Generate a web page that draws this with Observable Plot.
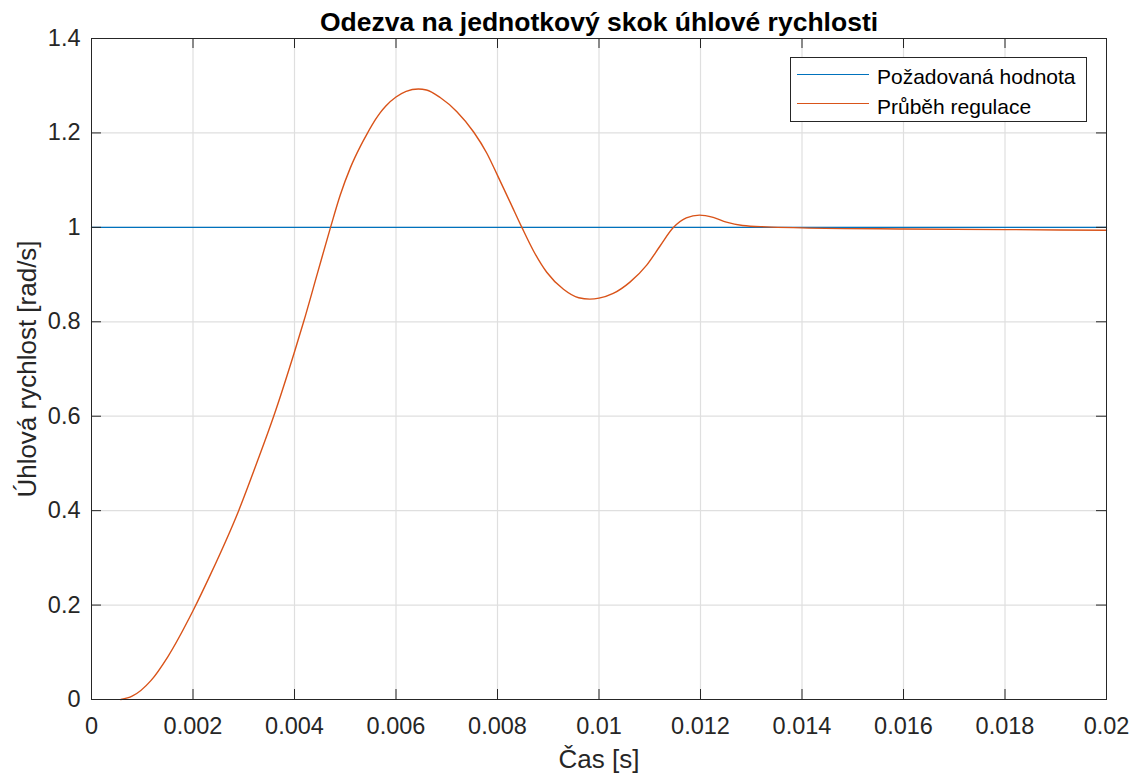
<!DOCTYPE html>
<html>
<head>
<meta charset="utf-8">
<script src="https://cdn.jsdelivr.net/npm/d3@7"></script>
<script src="https://cdn.jsdelivr.net/npm/@observablehq/plot@0.6"></script>
<style>
  body { margin: 0; background: #fff; font-family: "Liberation Sans", Arial, Helvetica, sans-serif; }
  #chart { position: relative; width: 1140px; height: 776px; }
  .legend { position: absolute; left: 790px; top: 57px; width: 295px; height: 63px;
            border: 1px solid #262626; background: #fff; }
  .legend .swatch { position: absolute; left: 6px; width: 72px; height: 0; border-top: 1.3px solid; }
  .legend .label { position: absolute; left: 86px; font-size: 21px; line-height: 21px; color: #000; white-space: nowrap; }
</style>
</head>
<body>
<div id="chart"></div>
<script>
// Step response of the angular-speed control loop
const title = "Odezva na jednotkový skok úhlové rychlosti";
const xLabel = "Čas [s]";
const yLabel = "Úhlová rychlost [rad/s]";
const seriesNames = ["Požadovaná hodnota", "Průběh regulace"];
const seriesColors = ["#0072BD", "#D95319"];

// Reference (setpoint) signal
const refTime = [0, 0.02];
const refValue = [1, 1];

// Measured speed during regulation
const time = [
  0.00058, 0.0008, 0.00117, 0.0015, 0.002, 0.00235, 0.0029, 0.00327, 0.00359, 0.00399,
  0.00418, 0.00445, 0.00471, 0.0049, 0.0051, 0.0053, 0.00543, 0.0056, 0.00569, 0.0058,
  0.006, 0.0062, 0.00644, 0.0066, 0.00687, 0.0072, 0.00753, 0.00779, 0.008, 0.00825,
  0.00848, 0.00871, 0.00897, 0.0093, 0.0096, 0.00982, 0.01, 0.01028, 0.01061, 0.01094,
  0.0112, 0.01146, 0.01172, 0.01198, 0.01225, 0.01251, 0.01283, 0.0133, 0.014, 0.016,
  0.018, 0.02
];
const speed = [
  0, 0.007, 0.040, 0.090, 0.188, 0.266, 0.400, 0.505, 0.600, 0.733,
  0.800, 0.902, 1.000, 1.068, 1.126, 1.172, 1.198, 1.229, 1.243, 1.257,
  1.276, 1.288, 1.293, 1.291, 1.275, 1.245, 1.202, 1.157, 1.110, 1.053,
  1.000, 0.950, 0.905, 0.869, 0.851, 0.848, 0.850, 0.860, 0.884, 0.920,
  0.960, 0.999, 1.020, 1.026, 1.021, 1.011, 1.004, 1.001, 0.999, 0.9966,
  0.9953, 0.9938
];

// Axis ticks and their labels
const xTicks = [0, 0.002, 0.004, 0.006, 0.008, 0.01, 0.012, 0.014, 0.016, 0.018, 0.02];
const xTickLabels = ["0", "0.002", "0.004", "0.006", "0.008", "0.01", "0.012", "0.014", "0.016", "0.018", "0.02"];
const yTicks = [0, 0.2, 0.4, 0.6, 0.8, 1, 1.2, 1.4];
const yTickLabels = ["0", "0.2", "0.4", "0.6", "0.8", "1", "1.2", "1.4"];

// Layout
const W = 1140, H = 776;
const mL = 91, mR = 34, mT = 38, mB = 77;
const innerW = W - mL - mR, innerH = H - mT - mB;
const tickLen = 10;
const axisColor = "#262626";
const gridColor = "#dfdfdf";
const font = '"Liberation Sans", Arial, Helvetica, sans-serif';

const innerXTicks = xTicks.slice(1, -1);
const innerYTicks = yTicks.slice(1, -1);

const chart = Plot.plot({
  width: W,
  height: H,
  marginLeft: mL,
  marginRight: mR,
  marginTop: mT,
  marginBottom: mB,
  style: { fontFamily: font, background: "white", color: axisColor, overflow: "visible" },
  x: { domain: [xTicks[0], xTicks[xTicks.length - 1]] },
  y: { domain: [yTicks[0], yTicks[yTicks.length - 1]] },
  marks: [
    // grid
    Plot.gridX(innerXTicks, { stroke: gridColor, strokeOpacity: 1, strokeWidth: 1.2 }),
    Plot.gridY(innerYTicks, { stroke: gridColor, strokeOpacity: 1, strokeWidth: 1.2 }),
    // series
    Plot.line(refTime, { x: refTime, y: refValue, stroke: seriesColors[0], strokeWidth: 1.4 }),
    Plot.line(time, { x: time, y: speed, stroke: seriesColors[1], strokeWidth: 1.4, curve: "monotone-x" }),
    // inward ticks on all four sides of the box
    Plot.tickX(innerXTicks, { x: d => d, insetTop: innerH - tickLen, stroke: axisColor, strokeWidth: 1 }),
    Plot.tickX(innerXTicks, { x: d => d, insetBottom: innerH - tickLen, stroke: axisColor, strokeWidth: 1 }),
    Plot.tickY(innerYTicks, { y: d => d, insetRight: innerW - tickLen, stroke: axisColor, strokeWidth: 1 }),
    Plot.tickY(innerYTicks, { y: d => d, insetLeft: innerW - tickLen, stroke: axisColor, strokeWidth: 1 }),
    Plot.frame({ stroke: axisColor, strokeWidth: 1 }),
    // tick labels
    Plot.axisX(xTicks, {
      anchor: "bottom", tickSize: 0, tickPadding: 18, fontSize: 23.5, label: null,
      tickFormat: d => xTickLabels[xTicks.indexOf(d)], fill: axisColor
    }),
    Plot.axisY(yTicks, {
      anchor: "left", tickSize: 0, tickPadding: 11, fontSize: 23.5, label: null,
      tickFormat: d => yTickLabels[yTicks.indexOf(d)], fill: axisColor
    }),
    // title and axis labels
    Plot.text([title], {
      text: d => d, frameAnchor: "top", lineAnchor: "bottom", dy: -8,
      fontSize: 26.5, fontWeight: "bold", fill: "#000"
    }),
    Plot.text([xLabel], {
      text: d => d, frameAnchor: "bottom", lineAnchor: "bottom", dy: 68,
      fontSize: 26, fill: axisColor
    }),
    Plot.text([yLabel], {
      text: d => d, frameAnchor: "left", textAnchor: "middle", lineAnchor: "bottom", dx: -56, rotate: -90,
      fontSize: 26, fill: axisColor
    })
  ]
});

const host = document.getElementById("chart");
host.appendChild(chart);

// Legend box in the upper right corner of the axes
const legend = document.createElement("div");
legend.className = "legend";
const rowTops = [7.5, 37.5];
const swatchTops = [16, 45];
seriesNames.forEach((name, i) => {
  const sw = document.createElement("div");
  sw.className = "swatch";
  sw.style.top = swatchTops[i] + "px";
  sw.style.borderTopColor = seriesColors[i];
  legend.appendChild(sw);
  const lb = document.createElement("div");
  lb.className = "label";
  lb.style.top = rowTops[i] + "px";
  lb.textContent = name;
  legend.appendChild(lb);
});
host.appendChild(legend);
</script>
</body>
</html>
